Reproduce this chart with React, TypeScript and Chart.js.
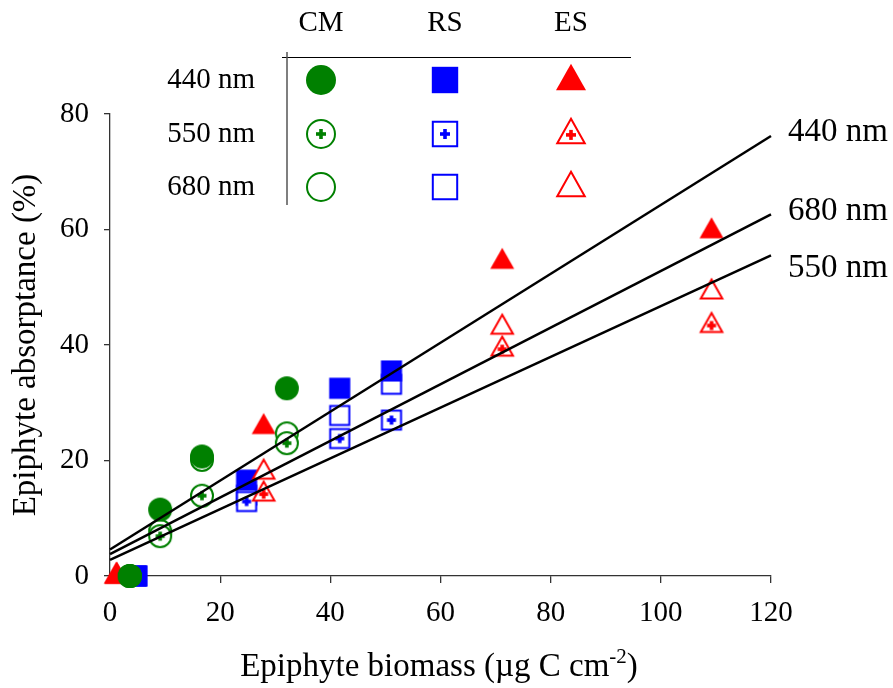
import { useEffect, useRef } from "react";
import { Chart, registerables } from "chart.js";
Chart.register(...registerables);

const SITES = ["CM", "RS", "ES"];
const BANDS = ["440 nm", "550 nm", "680 nm"];
const SITE_COLORS = ["#008000", "#0000ff", "#ff0000"];
const SHAPES = ["circle", "square", "triangle"] as const;
const KINDS = ["filled", "plus", "open"] as const; // 440, 550, 680

// Epiphyte biomass (x) per site
const CM_X = [3.6, 9.1, 16.7, 32.1];
const RS_X = [4.8, 24.8, 41.7, 51.1];
const ES_X = [1.2, 27.9, 71.2, 109.2];

// absorptance (%) per site and wavelength
const CM_440 = [0, 11.5, 20.7, 32.5];
const CM_550 = [0, 6.9, 13.9, 23.0];
const CM_680 = [0, 7.8, 20.1, 24.7];
const RS_440 = [0, 16.6, 32.5, 35.5];
const RS_550 = [0, 12.9, 23.8, 27.0];
const RS_680 = [0, 14.0, 27.8, 33.2];
const ES_440 = [0.5, 26.4, 55.0, 60.3];
const ES_550 = [0.5, 14.7, 39.8, 43.9];
const ES_680 = [0.5, 18.5, 43.6, 49.7];

// regression lines, y at x = 0 and x = 120
const FIT_X = [0, 120];
const FIT_440 = [4.6, 76.2];
const FIT_550 = [2.8, 55.5];
const FIT_680 = [3.8, 62.6];

const SERIF = "'Liberation Serif', 'Times New Roman', serif";

const pts = (xs: number[], ys: number[]) => xs.map((x, i) => ({ x, y: ys[i] }));

function makeMarker(shape: string, color: string, kind: string, d: number) {
  const pad = 3;
  const w = Math.ceil(d + pad * 2);
  const c = document.createElement("canvas");
  c.width = w; c.height = w;
  const ctx = c.getContext("2d")!;
  const cx = w / 2, cy = w / 2;
  const lw = 2;
  const inset = kind === "filled" ? 0 : lw / 2;
  let plusY = cy;
  ctx.beginPath();
  if (shape === "circle") {
    ctx.arc(cx, cy, d / 2 - inset, 0, Math.PI * 2);
  } else if (shape === "square") {
    const s = d * 0.88 - inset * 2;
    ctx.rect(cx - s / 2, cy - s / 2, s, s);
  } else {
    const tw = d - inset * 2.5, th = d * 0.88 - inset * 2;
    ctx.moveTo(cx, cy - th / 2);
    ctx.lineTo(cx + tw / 2, cy + th / 2);
    ctx.lineTo(cx - tw / 2, cy + th / 2);
    ctx.closePath();
    plusY = cy - th / 2 + th * 0.66;
  }
  if (kind === "filled") {
    ctx.fillStyle = color; ctx.fill();
  } else {
    ctx.fillStyle = "#fff"; ctx.fill();
    ctx.strokeStyle = color; ctx.lineWidth = lw; ctx.stroke();
    if (kind === "plus") {
      const a = d > 26 ? 5 : 4.5, t = 1.8;
      ctx.fillStyle = color;
      ctx.fillRect(cx - a, plusY - t, a * 2, t * 2);
      ctx.fillRect(cx - t, plusY - a, t * 2, a * 2);
    }
  }
  return c;
}

export default function App() {
  const ref = useRef<HTMLCanvasElement>(null);

  useEffect(() => {
    if (!ref.current) return;
    const chartMarks = SITES.map((_, s) => KINDS.map(k => makeMarker(SHAPES[s], SITE_COLORS[s], k, 24)));
    const legendMarks = SITES.map((_, s) => KINDS.map(k => makeMarker(SHAPES[s], SITE_COLORS[s], k, 30)));

    const siteX = [CM_X, RS_X, ES_X];
    const siteY = [[CM_440, CM_550, CM_680], [RS_440, RS_550, RS_680], [ES_440, ES_550, ES_680]];
    const fits = [FIT_440, FIT_550, FIT_680];

    // drawn top-first: lines, CM, ES, RS
    const siteOrder = [0, 2, 1];
    const scatter = siteOrder.flatMap(s => [0, 1, 2].map(b => ({
      type: "scatter" as const,
      label: `${SITES[s]} ${BANDS[b]}`,
      data: pts(siteX[s], siteY[s][b]),
      pointStyle: chartMarks[s][b],
      pointRadius: 12,
      borderWidth: 0,
      clip: false as const,
    })));
    const lines = fits.map((f, b) => ({
      type: "scatter" as const,
      label: `fit ${BANDS[b]}`,
      data: pts(FIT_X, f),
      showLine: true,
      borderColor: "#000",
      borderWidth: 2.5,
      pointRadius: 0,
      clip: false as const,
    }));

    const labelNudge = [-4, 13, -3];

    const decorations = {
      id: "decorations",
      afterDraw(chart: Chart) {
        const { ctx, chartArea } = chart;
        const y = chart.scales.y;
        ctx.save();
        ctx.fillStyle = "#000";

        // y title
        ctx.save();
        ctx.font = `33px ${SERIF}`;
        ctx.translate(35, (chartArea.top + chartArea.bottom) / 2);
        ctx.rotate(-Math.PI / 2);
        ctx.textAlign = "center";
        ctx.textBaseline = "alphabetic";
        ctx.fillText("Epiphyte absorptance (%)", 0, 0);
        ctx.restore();

        // x title with superscript
        const main = "Epiphyte biomass (\u00b5g C cm";
        ctx.font = `33px ${SERIF}`;
        const w1 = ctx.measureText(main).width;
        const w3 = ctx.measureText(")").width;
        ctx.font = `21px ${SERIF}`;
        const w2 = ctx.measureText("-2").width;
        const x0 = 439 - (w1 + w2 + w3) / 2;
        ctx.textAlign = "left";
        ctx.textBaseline = "alphabetic";
        ctx.font = `33px ${SERIF}`;
        ctx.fillText(main, x0, 676);
        ctx.font = `21px ${SERIF}`;
        ctx.fillText("-2", x0 + w1, 663);
        ctx.font = `33px ${SERIF}`;
        ctx.fillText(")", x0 + w1 + w2, 676);

        // fit labels
        ctx.textBaseline = "middle";
        fits.forEach((f, b) => {
          ctx.fillText(BANDS[b], chartArea.right + 17, y.getPixelForValue(f[1]) + labelNudge[b]);
        });

        // legend table
        ctx.font = `29px ${SERIF}`;
        const colX = [321, 445, 571];
        const rowY = [80, 134, 187];
        ctx.textAlign = "center";
        SITES.forEach((s, i) => ctx.fillText(s, colX[i], 23));
        ctx.textAlign = "right";
        BANDS.forEach((b, i) => ctx.fillText(b, 255, rowY[i]));
        ctx.strokeStyle = "#000";
        ctx.lineWidth = 1;
        ctx.beginPath();
        ctx.moveTo(282, 57.5); ctx.lineTo(631, 57.5);
        ctx.stroke();
        ctx.strokeStyle = "#555";
        ctx.lineWidth = 1.5;
        ctx.beginPath();
        ctx.moveTo(287, 52); ctx.lineTo(287, 205);
        ctx.stroke();
        SITES.forEach((_, s) => [0, 1, 2].forEach(b => {
          const m = legendMarks[s][b];
          const dy = s === 2 ? -3 : 0;
          ctx.drawImage(m, colX[s] - m.width / 2, rowY[b] + dy - m.height / 2);
        }));
        ctx.restore();
      },
    };

    const chart = new Chart(ref.current, {
      type: "scatter",
      data: { datasets: [...lines, ...scatter] as any },
      options: {
        responsive: true,
        maintainAspectRatio: false,
        animation: false,
        events: [],
        layout: { padding: { top: 114, right: 122, left: 0, bottom: 0 } },
        plugins: { legend: { display: false }, tooltip: { enabled: false } },
        scales: {
          x: {
            type: "linear", min: 0, max: 120,
            ticks: { stepSize: 20, color: "#000", font: { family: SERIF, size: 29 }, padding: 13, maxRotation: 0 },
            grid: { drawOnChartArea: false, drawTicks: true, tickLength: 7, color: "#333", lineWidth: 1.3 },
            border: { color: "#333", width: 1.3 },
            afterFit: (s: any) => { s.height = 112; },
          },
          y: {
            type: "linear", min: 0, max: 80,
            ticks: { stepSize: 20, color: "#000", font: { family: SERIF, size: 29 }, padding: 15 },
            grid: { drawOnChartArea: false, drawTicks: true, tickLength: 6, color: "#333", lineWidth: 1.3 },
            border: { color: "#333", width: 1.3 },
            afterFit: (s: any) => { s.width = 110; },
          },
        },
      },
      plugins: [decorations],
    });
    return () => { chart.destroy(); };
  }, []);

  return (
    <div style={{ position: "absolute", left: 0, top: 0, width: 893, height: 688, background: "#fff" }}>
      <canvas ref={ref} />
    </div>
  );
}
